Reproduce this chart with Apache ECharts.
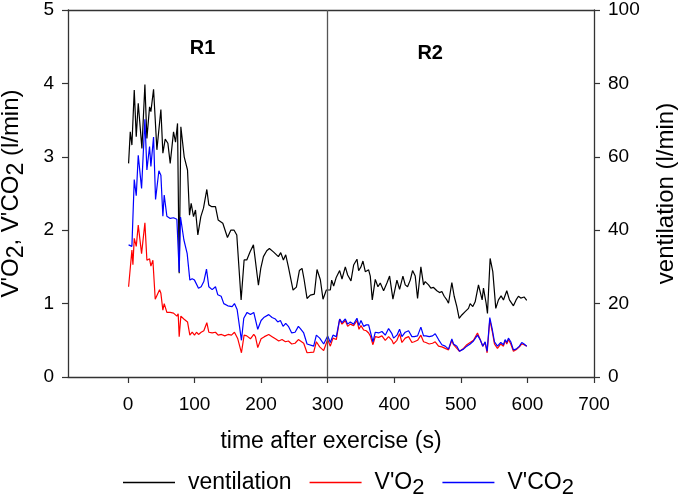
<!DOCTYPE html>
<html><head><meta charset="utf-8">
<script src="https://cdn.jsdelivr.net/npm/echarts@6/dist/echarts.min.js"></script>
<style>html,body{margin:0;padding:0;background:#fff}#c{width:685px;height:494px}</style>
</head><body><div id="c"></div>
<script>
const xTicks = [0,100,200,300,400,500,600,700];
const ventTime = [1,3.5,6,9.5,12.5,15.5,21,25.5,28.5,32.5,34.5,38.5,43.5,49.5,52.5,56,60,63.5,68.5,71.5,74.5,77,79.5,84.5,89.5,92.5,95,98.5,101.5,105,109.5,113.5,118.5,121.5,126,131.5,135.5,142.5,149.5,154.5,159.5,163.5,170,174.5,178.5,183.5,188.5,191,196,199.5,203.5,208.5,212.5,218.5,226,229.5,233.5,237,241,248,253,257.5,261.5,264.5,269,274,280,284,289,293,298,
  300,304,306,309,313,318,321.5,326.5,330,335,339,344,346.5,350,353,356.5,361.5,364,367,371.5,375.5,379,384,389,393,398,404,408,413,416.5,420,424,427.5,431.5,435,440,444,446.5,451.5,455,459,464,468,471.5,475,479,481.5,486.5,490,494,497.5,501.5,506.5,511.5,514,518,521.5,526.5,529,532,534,538,540,544,548,552.5,556.5,560.5,564,569,573,579,583,586.5,590,595,599];
const ventValues = [58.2,66.8,63.2,78.2,65.5,74.6,62.3,79.7,65,73.6,72.3,78.4,61.9,72.9,61,64.8,63.7,58.2,66.8,64,69.1,28.3,68.2,60,56.4,44.1,47.3,43.7,45.5,38.7,43.7,46,51.1,46.9,46.4,46.4,42.8,41.9,38,40,40,38.7,21,31.9,31.9,34.1,36,36.5,25,29.6,32.8,34.4,35,34.1,32.8,33.9,31.9,33.3,30,23.7,24.5,29,29.6,26.7,21.4,22.3,22.6,29.3,26.5,21.2,23.7,
  23.5,23.7,26.4,24.8,27.2,29,26.7,30,27.8,26.2,30.5,32.1,29,30,31.6,28.7,29.2,27.5,21,26.6,24.6,25.6,23.5,25.6,27.5,21.2,26.4,23.9,27.5,25.1,24.6,26.4,29,27.5,21.4,30,25.1,26,25.1,24.2,24.4,23.5,23,23.3,22,21,20.1,25.7,22,19.2,16,16.9,17.8,18.7,20,19.2,20.5,25.1,24.6,21,24.2,20.1,17.3,32.3,28.7,18.7,21,22.1,21,23.5,21,19.4,21,22,21.5,21.8,20.9];
const vo2Time = [1,3.5,6,7.5,9.5,12.5,15.5,20.5,25.5,28.5,32.5,34.5,37.5,41,43.5,47.5,49.5,52.5,54.5,58.5,63.5,68.5,73.5,75.5,77,79.5,84,89.5,93,96.5,100,103,106,110,114,118.5,121.5,126.5,131.5,135.5,140.5,145.5,150.5,155.5,160,165,170.5,174.5,178.5,184,189,191.5,195,200,205,211.5,216.5,221.5,226.5,231.5,236.5,241,246,251,256,
  259,264,269,279,283,288,294,300,304,308,313,318,321.5,326.5,330,334,339,344,347,350,354,358,361.5,364,368,371.5,376.5,381.5,386.5,391.5,396.5,399,404,408,411.5,416.5,421.5,426.5,430,435,440,444,447.5,452.5,457.5,461.5,466.5,471.5,476.5,481.5,486.5,489,494,498,504,509,514,519,525,529,533,536.5,539.5,543.5,547,550.5,555,560,564,566.5,569,571.5,575,579,583,588,591.5,595,599];
const vo2Values = [1.23,1.21,1.73,1.53,1.89,1.78,2.07,1.68,2.10,1.59,1.61,1.51,1.59,1.06,1.07,1.19,1.14,0.91,1.00,0.88,0.88,0.87,0.83,0.86,0.55,0.83,0.79,0.75,0.57,0.61,0.57,0.61,0.58,0.61,0.63,0.74,0.61,0.60,0.61,0.57,0.58,0.56,0.58,0.57,0.61,0.52,0.33,0.57,0.56,0.52,0.58,0.55,0.40,0.52,0.55,0.58,0.55,0.52,0.49,0.51,0.48,0.49,0.45,0.46,0.51,
  0.53,0.46,0.33,0.34,0.48,0.41,0.36,0.51,0.42,0.53,0.51,0.79,0.72,0.77,0.69,0.72,0.70,0.77,0.65,0.70,0.64,0.63,0.60,0.56,0.44,0.55,0.54,0.56,0.50,0.55,0.50,0.45,0.50,0.59,0.47,0.53,0.55,0.47,0.48,0.50,0.57,0.48,0.47,0.45,0.46,0.48,0.42,0.41,0.39,0.37,0.50,0.44,0.39,0.35,0.39,0.44,0.47,0.50,0.60,0.51,0.42,0.47,0.33,0.78,0.63,0.45,0.39,0.45,0.42,0.50,0.45,0.51,0.45,0.35,0.37,0.41,0.45,0.44,0.42];
const vco2Time = [1,3.5,6,9.5,12.5,15.5,20.5,25.5,28.5,32.5,34.5,38.5,41.5,43.5,46.5,49.5,52.5,54.5,58.5,63.5,68.5,73.5,75.5,77,79,84,89,93,96.5,100,103,106,110,114,118,121.5,126.5,131.5,135,140,144,150,156.5,160,164,170.5,174,179,184,189,191.5,195,200,204,211.5,216.5,221.5,225,229,233,237,241,246,251,256,
  259,264,269,279,283,288,294,300,304,308,313,318,321.5,326.5,330,334,339,344,347,350,354,358,361.5,364,368,371.5,376.5,381.5,386.5,391.5,396.5,399,404,408,411.5,416.5,421.5,426.5,430,435,440,444,447.5,452.5,457.5,461.5,466.5,471.5,476.5,481.5,486.5,489,494,498,504,509,514,519,525,529,533,536.5,539.5,543.5,547,550.5,555,560,564,566.5,569,571.5,575,579,583,588,591.5,595,599];
const vco2Values = [1.80,1.81,1.78,2.69,2.47,3.02,2.57,3.51,2.82,3.14,2.87,3.27,2.42,2.41,2.81,2.75,2.19,2.48,2.19,2.16,2.17,2.15,2.16,1.43,2.18,1.87,1.68,1.32,1.34,1.32,1.34,1.21,1.23,1.30,1.47,1.23,1.19,1.23,1.12,1.10,1.00,0.97,0.96,1.00,0.92,0.50,0.80,0.88,0.85,0.88,0.87,0.65,0.77,0.81,0.85,0.81,0.79,0.75,0.77,0.69,0.73,0.69,0.60,0.61,0.69,
  0.66,0.60,0.45,0.42,0.57,0.53,0.45,0.56,0.47,0.57,0.55,0.79,0.74,0.79,0.72,0.75,0.72,0.80,0.70,0.77,0.69,0.71,0.71,0.62,0.48,0.61,0.60,0.62,0.57,0.66,0.59,0.53,0.57,0.65,0.55,0.61,0.63,0.55,0.55,0.56,0.68,0.56,0.56,0.55,0.56,0.59,0.51,0.44,0.42,0.38,0.52,0.45,0.42,0.35,0.38,0.42,0.45,0.49,0.57,0.51,0.42,0.48,0.35,0.81,0.66,0.48,0.42,0.47,0.44,0.51,0.47,0.53,0.48,0.37,0.38,0.42,0.47,0.45,0.42];
const regionLabels = [{name:'R1', t:112, v:4.48}, {name:'R2', t:454, v:4.41}];
const splitTime = 300;

const zip = (a,b) => a.map((t,i)=>[t,b[i]]);
const FONT = 'Liberation Sans, Arial, sans-serif';
const AX = '#333';
const richL = {
  n:{fontFamily:FONT,fontSize:23,color:'#000'},
  s:{fontFamily:FONT,fontSize:22,color:'#000',padding:[10,0,0,0]}
};
const richY = {
  n:{fontFamily:FONT,fontSize:24,color:'#000'},
  s:{fontFamily:FONT,fontSize:23,color:'#000',padding:[10,0,0,0]}
};
const tickStyle = {show:true,length:6,lineStyle:{color:AX,width:1.2}};
const lineAx = {show:true,onZero:false,lineStyle:{color:AX,width:1.3}};
const chart = echarts.init(document.getElementById('c'));
chart.setOption({
  animation:false,
  grid:{left:68,right:91,top:10,bottom:117,containLabel:false,outerBoundsMode:'none'},
  legend:{
    top:466,left:118,itemWidth:52,itemHeight:1.5,itemGap:18,icon:'rect',
    data:['ventilation',"V'O2","V'CO2"],
    formatter:n=> n==='ventilation' ? '{n|ventilation}' : (n==="V'O2" ? "{n|V'O}{s|2}" : "{n|V'CO}{s|2}"),
    textStyle:{rich:richL,padding:[0,0,0,8]}
  },
  xAxis:[{type:'value',min:-90,max:700,position:'bottom',
    name:'time after exercise (s)',nameLocation:'middle',nameGap:53,
    nameTextStyle:{fontFamily:FONT,fontSize:23,color:'#000'},
    axisLine:lineAx,splitLine:{show:false},
    axisTick:Object.assign({customValues:xTicks},tickStyle),
    axisLabel:{fontFamily:FONT,fontSize:19,color:'#000',margin:18,customValues:xTicks}
  },{type:'value',min:-90,max:700,position:'top',
    axisLine:lineAx,splitLine:{show:false},axisTick:{show:false},axisLabel:{show:false}}],
  yAxis:[
    {type:'value',min:0,max:5,interval:1,position:'left',
     name:"{n|V'O}{s|2}{n|, V'CO}{s|2}{n| (l/min)}",nameLocation:'middle',nameGap:40,nameRotate:90,
     nameTextStyle:{rich:richY},
     axisLine:lineAx,splitLine:{show:false},axisTick:tickStyle,
     axisLabel:{fontFamily:FONT,fontSize:19,color:'#000',margin:14}},
    {type:'value',min:0,max:100,interval:20,position:'right',
     name:'ventilation (l/min)',nameLocation:'middle',nameGap:60,nameRotate:90,
     nameTextStyle:{fontFamily:FONT,fontSize:24,color:'#000'},
     axisLine:lineAx,splitLine:{show:false},axisTick:tickStyle,
     axisLabel:{fontFamily:FONT,fontSize:19,color:'#000',margin:14}}
  ],
  series:[
    {name:'ventilation',type:'line',yAxisIndex:1,symbol:'none',data:zip(ventTime,ventValues),
     lineStyle:{color:'#000',width:1.2},itemStyle:{color:'#000'},
     markLine:{silent:true,symbol:'none',label:{show:false},lineStyle:{color:'#555',width:1.3,type:'solid'},data:[{xAxis:splitTime}]}},
    {name:"V'O2",type:'line',symbol:'none',data:zip(vo2Time,vo2Values),
     lineStyle:{color:'#ff0000',width:1.2},itemStyle:{color:'#ff0000'}},
    {name:"V'CO2",type:'line',symbol:'none',data:zip(vco2Time,vco2Values),
     lineStyle:{color:'#0000ff',width:1.2},itemStyle:{color:'#0000ff'},
     markPoint:{symbol:'circle',symbolSize:0,silent:true,
       label:{show:true,position:'inside',fontFamily:FONT,fontSize:20,fontWeight:'bold',color:'#000',formatter:p=>p.name},
       data:regionLabels.map(r=>({name:r.name,coord:[r.t,r.v]}))}}
  ]
});
</script></body></html>
